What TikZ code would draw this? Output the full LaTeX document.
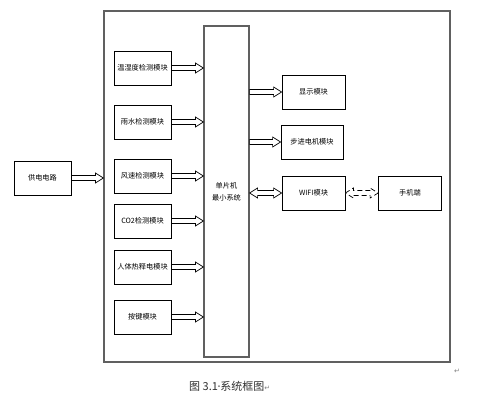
\documentclass[tikz,border=0pt]{standalone}
\usepackage{fontspec}
\newfontfamily\cjk{Noto Sans CJK SC}
\newfontfamily\symfont{DejaVu Sans}
\usetikzlibrary{calc}
\definecolor{framegray}{HTML}{606060}
\definecolor{captxt}{HTML}{303030}
\tikzset{
  modbox/.style={draw=black, line width=0.8pt, fill=white, inner sep=0pt, minimum height=34pt, font=\cjk\fontsize{7.2}{9}\selectfont},
  bigbox/.style={draw=framegray, line width=1.2pt, inner sep=0pt},
  arr/.style={draw=black, line width=0.7pt, fill=white, line join=miter},
}
\newcommand\hollowR[3][]{\draw[arr,#1] let \p1=(#2),\p2=(#3) in
  (\x1,\y1+2.5pt) -- (\x2-8pt,\y1+2.5pt) -- (\x2-8pt,\y1+5pt) -- (\x2,\y1)
  -- (\x2-8pt,\y1-5pt) -- (\x2-8pt,\y1-2.5pt) -- (\x1,\y1-2.5pt) -- cycle;}
\newcommand\hollowD[3][]{\draw[arr,#1] let \p1=(#2),\p2=(#3) in
  (\x1,\y1) -- (\x1+8pt,\y1+5pt) -- (\x1+8pt,\y1+2.5pt) -- (\x2-8pt,\y1+2.5pt)
  -- (\x2-8pt,\y1+5pt) -- (\x2,\y1) -- (\x2-8pt,\y1-5pt) -- (\x2-8pt,\y1-2.5pt)
  -- (\x1+8pt,\y1-2.5pt) -- (\x1+8pt,\y1-5pt) -- cycle;}
\begin{document}
\begin{tikzpicture}[x=1pt,y=-1pt]
\useasboundingbox[fill=white] (0,0) rectangle (480,408);
% frames
\node[bigbox, minimum width=346pt, minimum height=351pt] (sys) at (277,186.5) {};
\node[bigbox, minimum width=45pt, minimum height=331pt, align=center,
      font=\cjk\fontsize{7.2}{12}\selectfont] (mcu) at (226.5,191.5) {单片机\\最小系统};
% left modules
\node[modbox, minimum width=57pt] (m1) at (142.5,68) {温湿度检测模块};
\node[modbox, minimum width=57pt] (m2) at (142.5,122) {雨水检测模块};
\node[modbox, minimum width=57pt] (m3) at (142.5,176) {风速检测模块};
\node[modbox, minimum width=57pt] (m4) at (142.5,221) {CO2检测模块};
\node[modbox, minimum width=57pt] (m5) at (142.5,267) {人体热释电模块};
\node[modbox, minimum width=57pt] (m6) at (142.5,317) {按键模块};
% power
\node[modbox, minimum width=57pt] (pow) at (42.5,178) {供电电路};
% right modules
\node[modbox, minimum width=63pt] (disp) at (313.5,92) {显示模块};
\node[modbox, minimum width=62pt] (step) at (312,142) {步进电机模块};
\node[modbox, minimum width=63pt] (wifi) at (313.5,193) {WIFI模块};
\node[modbox, minimum width=63pt] (phone) at (410,193) {手机端};
% arrows
\foreach \m in {m1,m2,m3,m4,m5,m6}{\hollowR{\m.east}{mcu.west |- \m.east}}
\hollowR{pow.east}{sys.west |- pow.east}
\hollowR{mcu.east |- disp.west}{disp.west}
\hollowR{mcu.east |- step.west}{step.west}
\hollowD{mcu.east |- wifi.west}{wifi.west}
\hollowD[dashed, dash pattern=on 5pt off 3pt]{wifi.east}{phone.west}
% caption
\node[anchor=west, inner sep=0pt, text=captxt, font=\cjk\fontsize{11}{12}\selectfont] (cap) at (189,386) {图 3.1{\symfont\fontsize{11}{12}\selectfont\kern-0.5pt·\kern-0.5pt}系统框图{\symfont\fontsize{7}{8}\selectfont\color{gray}↵}};
\node[inner sep=0pt, text=gray, font=\symfont\fontsize{7}{8}\selectfont] (pm) at (457,371) {↵};
\end{tikzpicture}
\end{document}
